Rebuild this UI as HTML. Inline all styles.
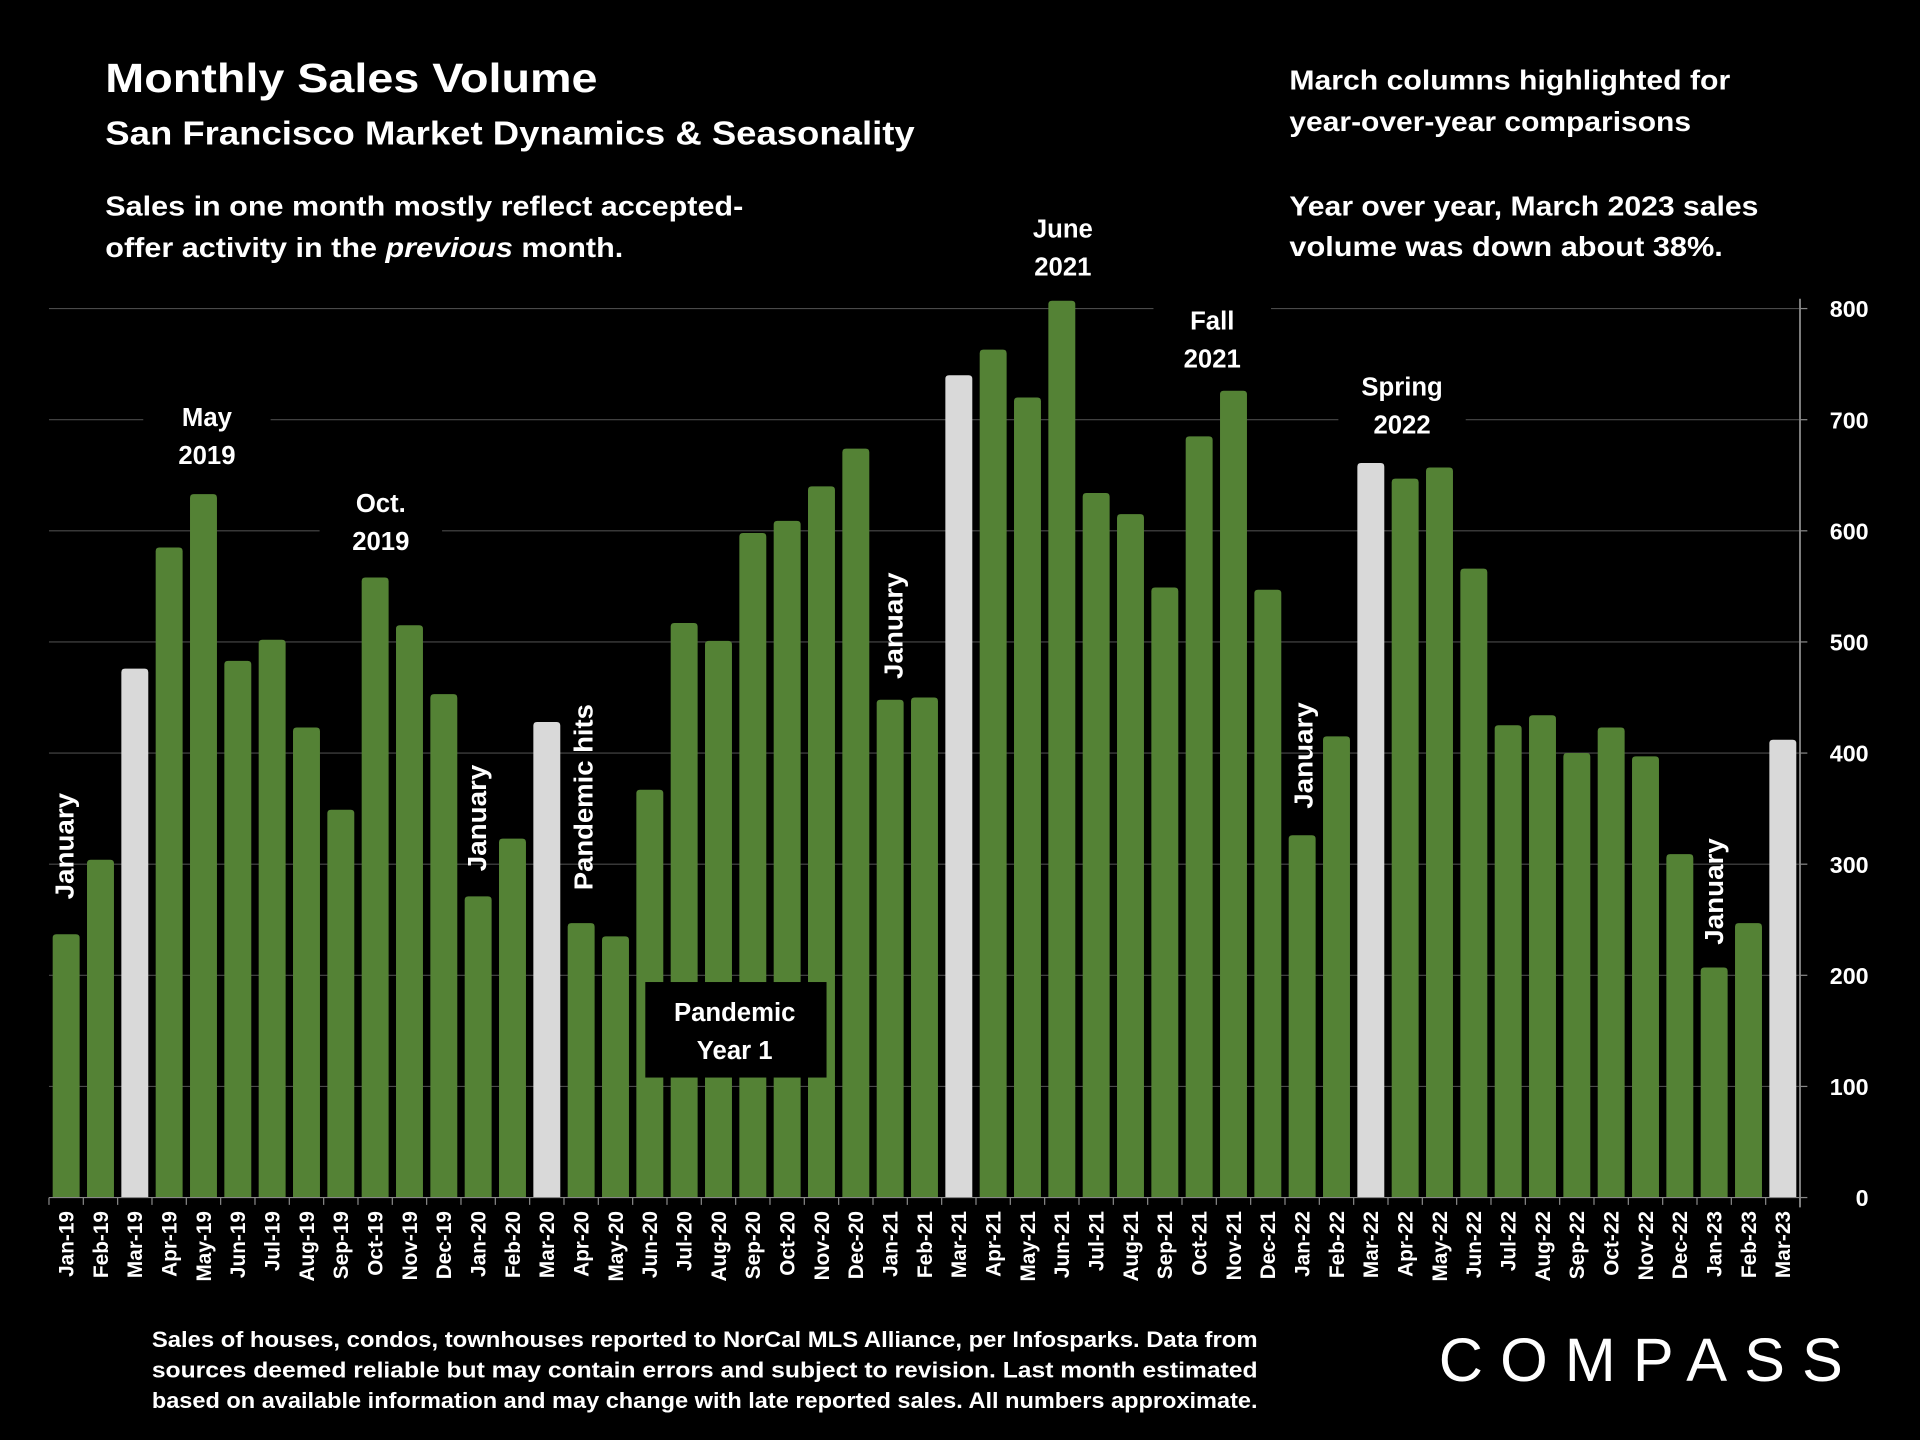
<!DOCTYPE html>
<html><head><meta charset="utf-8"><style>
html,body{margin:0;padding:0;background:#000;}
svg{display:block;}
text{font-family:"Liberation Sans",sans-serif;font-weight:bold;fill:#fff;}
</style></head>
<body>
<svg id="chart" width="1920" height="1440" viewBox="0 0 1568 1176" xmlns="http://www.w3.org/2000/svg">
<rect width="1568" height="1176" fill="#000"/>
<g id="grid"></g>
<g id="bars"></g>
<g id="axes"></g>
<g id="ann"></g>

<text x="86" y="75" font-size="33" textLength="402" lengthAdjust="spacingAndGlyphs">Monthly Sales Volume</text>
<text x="86" y="118" font-size="27" textLength="661" lengthAdjust="spacingAndGlyphs">San Francisco Market Dynamics &amp; Seasonality</text>
<text x="86" y="176" font-size="23" textLength="521" lengthAdjust="spacingAndGlyphs">Sales in one month mostly reflect accepted-</text>
<text x="86" y="210" font-size="23" textLength="423" lengthAdjust="spacingAndGlyphs">offer activity in the <tspan font-style="italic">previous</tspan> month.</text>
<text x="1053" y="73" font-size="23" textLength="360" lengthAdjust="spacingAndGlyphs">March columns highlighted for</text>
<text x="1053" y="107" font-size="23" textLength="328" lengthAdjust="spacingAndGlyphs">year-over-year comparisons</text>
<text x="1053" y="176" font-size="23" textLength="383" lengthAdjust="spacingAndGlyphs">Year over year, March 2023 sales</text>
<text x="1053" y="209" font-size="23" textLength="354" lengthAdjust="spacingAndGlyphs">volume was down about 38%.</text>

<g>
<text x="124" y="1100" textLength="903" lengthAdjust="spacingAndGlyphs" font-size="18">Sales of houses, condos, townhouses reported to NorCal MLS Alliance, per Infosparks. Data from</text>
<text x="124" y="1125" textLength="903" lengthAdjust="spacingAndGlyphs" font-size="18">sources deemed reliable but may contain errors and subject to revision. Last month estimated</text>
<text x="124" y="1150" textLength="903" lengthAdjust="spacingAndGlyphs" font-size="18">based on available information and may change with late reported sales. All numbers approximate.</text>
</g>
<text x="1175" y="1128" font-size="50" style="font-weight:normal" textLength="330" lengthAdjust="spacing">COMPASS</text>
</svg>
<script>
const categories = ["Jan-19","Feb-19","Mar-19","Apr-19","May-19","Jun-19","Jul-19","Aug-19","Sep-19","Oct-19","Nov-19","Dec-19","Jan-20","Feb-20","Mar-20","Apr-20","May-20","Jun-20","Jul-20","Aug-20","Sep-20","Oct-20","Nov-20","Dec-20","Jan-21","Feb-21","Mar-21","Apr-21","May-21","Jun-21","Jul-21","Aug-21","Sep-21","Oct-21","Nov-21","Dec-21","Jan-22","Feb-22","Mar-22","Apr-22","May-22","Jun-22","Jul-22","Aug-22","Sep-22","Oct-22","Nov-22","Dec-22","Jan-23","Feb-23","Mar-23"];
const salesValues = [237,304,476,585,633,483,502,423,349,558,515,453,271,323,428,247,235,367,517,501,598,609,640,674,448,450,740,763,720,807,634,615,549,685,726,547,326,415,661,647,657,566,425,434,400,423,397,309,207,247,412];
const yTicks = [0,100,200,300,400,500,600,700,800];

const NS = "http://www.w3.org/2000/svg";
const X0 = 40, X1 = 1470, Y0 = 978, Y800 = 252;
const slot = (X1 - X0) / categories.length;
function xScale(i){ return X0 + slot * (i + 0.5); }
function yScale(v){ return Y0 - (Y0 - Y800) * v / 800; }
function mk(tag, attrs, parent){ const e = document.createElementNS(NS, tag); for (const k in attrs) e.setAttribute(k, attrs[k]); parent.appendChild(e); return e; }

const grid = document.getElementById('grid');
const bars = document.getElementById('bars');
const axes = document.getElementById('axes');
const ann = document.getElementById('ann');

yTicks.forEach(t => {
  if (t > 0) {
    const g = mk('line', {x1: X0, x2: X1, y1: yScale(t), y2: yScale(t), stroke: '#4a4a4a', 'stroke-width': 1}, grid);
    
    
  }
  const tk = mk('line', {x1: X1, x2: X1 + 6, y1: yScale(t), y2: yScale(t), stroke: '#888'}, axes);
  
  
  const lb = mk('text', {x: 1526, y: yScale(t) + 7, 'font-size': 19, 'text-anchor': 'end'}, axes);
  lb.textContent = t;
  
  
});
const ax = mk('line', {x1: X1, x2: X1, y1: 244, y2: Y0 + 8, stroke: '#888', 'stroke-width': 1.5}, axes);


const bx = mk('line', {x1: X0, x2: X1, y1: Y0, y2: Y0, stroke: '#888'}, axes);



const bw = 22;
categories.forEach((c, i) => {
  const v = salesValues[i];
  const isMar = c.startsWith('Mar');
  const r = mk('path', {}, bars);
  const x = xScale(i) - bw / 2, y = yScale(v), rr = 3;
  r.setAttribute('d', `M${x},${Y0} L${x},${y+rr} Q${x},${y} ${x+rr},${y} L${x+bw-rr},${y} Q${x+bw},${y} ${x+bw},${y+rr} L${x+bw},${Y0} Z`);
  r.setAttribute('fill', isMar ? '#d9d9d9' : '#548235');
  
  
  const tk = mk('line', {x1: X0 + slot * i, x2: X0 + slot * i, y1: Y0, y2: Y0 + 6, stroke: '#888'}, axes);
  
  
  const cx = xScale(i) + 6;
  const t = mk('text', {x: cx, y: 989, 'font-size': 17, 'text-anchor': 'end', transform: `rotate(-90 ${cx} 989)`}, axes);
  t.textContent = c;
  
  
});
const tk2 = mk('line', {x1: X1, x2: X1, y1: Y0, y2: Y0 + 6, stroke: '#888'}, axes);



const hAnn = [
  {name:'may-2019', cx:169, lines:['May','2019'], y:348, w:104},
  {name:'oct-2019', cx:311, lines:['Oct.','2019'], y:418, w:100},
  {name:'june-2021', cx:868, lines:['June','2021'], y:194, w:100},
  {name:'fall-2021', cx:990, lines:['Fall','2021'], y:269, w:96},
  {name:'spring-2022', cx:1145, lines:['Spring','2022'], y:323, w:104}
];
hAnn.forEach(a => {
  const bg = mk('rect', {x: a.cx - a.w/2, y: a.y - 24, width: a.w, height: 64, fill: '#000'}, ann);
  
  
  a.lines.forEach((l, k) => {
    const t = mk('text', {x: a.cx, y: a.y + k * 31, 'font-size': 21, 'text-anchor': 'middle'}, ann);
    t.textContent = l;
    
    
  });
});

const vAnn = [
  {name:'january-2019', x:52, cy:691, text:'January', len:87},
  {name:'january-2020', x:389, cy:668, text:'January', len:87},
  {name:'pandemic-hits', x:476, cy:651, text:'Pandemic hits', len:152},
  {name:'january-2021', x:729, cy:511, text:'January', len:87},
  {name:'january-2022', x:1064, cy:617, text:'January', len:87},
  {name:'january-2023', x:1399, cy:728, text:'January', len:87}
];
vAnn.forEach(a => {
  const bx2 = a.x + 8;
  const t = mk('text', {x: bx2, y: a.cy, 'font-size': 21, 'text-anchor': 'middle', textLength: a.len, lengthAdjust: 'spacingAndGlyphs', transform: `rotate(-90 ${bx2} ${a.cy})`}, ann);
  t.textContent = a.text;
  
  
});

const box = mk('rect', {x: 527, y: 802, width: 148, height: 78, fill: '#000'}, ann);


['Pandemic','Year 1'].forEach((l, k) => {
  const t = mk('text', {x: 600, y: 834 + k * 31, 'font-size': 21, 'text-anchor': 'middle'}, ann);
  t.textContent = l;
  
  
});
</script>
</body></html>
